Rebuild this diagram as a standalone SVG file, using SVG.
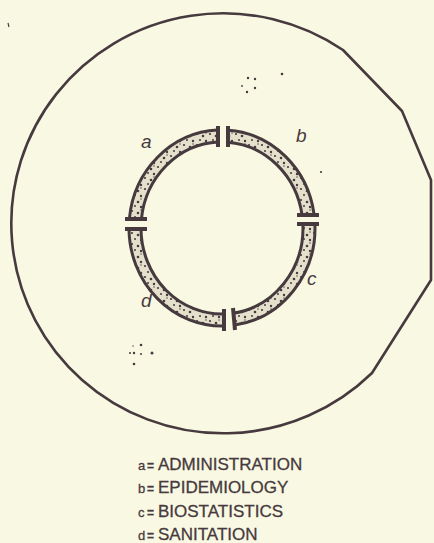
<svg xmlns="http://www.w3.org/2000/svg" width="434" height="543" viewBox="0 0 434 543">
<style>
.ink{fill:none;stroke:#463a3e;stroke-width:2.6;stroke-linejoin:round}
.seg{fill:none;stroke:#463a3e;stroke-width:15;stroke-linecap:butt}
.segin{fill:none;stroke:url(#stip);stroke-width:9;stroke-linecap:butt}
.fl{stroke:#463a3e;stroke-width:4;stroke-linecap:butt}
.lab{font-family:"Liberation Sans","DejaVu Sans",sans-serif;font-style:italic;font-size:19px;fill:#463a3e}
.leg{font-family:"Liberation Sans","DejaVu Sans",sans-serif;font-size:17px;fill:#463a3e;stroke:#463a3e;stroke-width:0.3}
.dot{fill:#463a3e}
</style>
<defs>
<pattern id="stip" width="13" height="11" patternUnits="userSpaceOnUse">
<rect width="13" height="11" fill="#e4e0cb"/>
<circle cx="2" cy="2" r="1.1" fill="#463a3e"/>
<circle cx="8" cy="4" r="1.3" fill="#463a3e"/>
<circle cx="5" cy="8" r="1" fill="#463a3e"/>
<circle cx="11" cy="9" r="1.2" fill="#463a3e"/>
<circle cx="11" cy="1" r="0.7" fill="#463a3e"/>
</pattern>
</defs>
<rect width="434" height="543" fill="#f9f8e3"/>
<g id="outer">
<path class="ink" d="M343,50 A212 210 0 1 0 372,373 L431,280 L431,180 L402,111 Z"/>
</g>
<g id="dots">
<circle class="dot" cx="248" cy="78" r="1.2"/>
<circle class="dot" cx="255" cy="79" r="1.2"/>
<circle class="dot" cx="242" cy="86" r="0.9"/>
<circle class="dot" cx="247" cy="92" r="1.2"/>
<circle class="dot" cx="255" cy="88" r="1.2"/>
<circle class="dot" cx="282" cy="74" r="1.3"/>
<circle class="dot" cx="321" cy="172" r="1.1"/>
<circle class="dot" cx="141" cy="345" r="1.3"/>
<circle class="dot" cx="133" cy="346" r="0.7"/>
<circle class="dot" cx="130" cy="353" r="1"/>
<circle class="dot" cx="134" cy="353" r="1.2"/>
<circle class="dot" cx="141" cy="354" r="1"/>
<circle class="dot" cx="152" cy="353" r="1.5"/>
<circle class="dot" cx="134" cy="364" r="1.3"/>
<path d="M8,23 L9,27" stroke="#463a3e" stroke-width="1.2"/>
</g>
<g id="seg-a">
<path class="seg" d="M218,136.1 A87 92 0 0 0 135.4,219"/>
<path class="segin" d="M218,136.1 A87 92 0 0 0 135.4,219"/>
<line class="fl" x1="218" y1="126" x2="218" y2="147"/>
<line class="fl" x1="125" y1="219" x2="147" y2="219"/>
<text class="lab" x="141" y="148">a</text>
</g>
<g id="seg-b">
<path class="seg" d="M228,136.2 A87 92 0 0 1 308.1,215"/>
<path class="segin" d="M228,136.2 A87 92 0 0 1 308.1,215"/>
<line class="fl" x1="228" y1="126" x2="228" y2="147"/>
<line class="fl" x1="297" y1="215" x2="319" y2="215"/>
<text class="lab" x="296" y="142">b</text>
</g>
<g id="seg-c">
<path class="seg" d="M308.9,224 A87 92 0 0 1 234,319.1"/>
<path class="segin" d="M308.9,224 A87 92 0 0 1 234,319.1"/>
<line class="fl" x1="297" y1="224" x2="319" y2="224"/>
<line class="fl" x1="233" y1="308" x2="235" y2="330"/>
<text class="lab" x="307" y="285">c</text>
</g>
<g id="seg-d">
<path class="seg" d="M224,320 A87 92 0 0 1 135,229"/>
<path class="segin" d="M224,320 A87 92 0 0 1 135,229"/>
<line class="fl" x1="224" y1="309" x2="224" y2="331"/>
<line class="fl" x1="125" y1="229" x2="147" y2="229"/>
<text class="lab" x="141" y="307">d</text>
</g>
<g id="legend">
<text class="leg" y="470"><tspan x="138" font-size="13">a</tspan><tspan x="147" font-size="12" font-weight="bold">=</tspan><tspan x="158">ADMINISTRATION</tspan></text>
<text class="leg" y="493"><tspan x="138" font-size="13">b</tspan><tspan x="147" font-size="12" font-weight="bold">=</tspan><tspan x="158">EPIDEMIOLOGY</tspan></text>
<text class="leg" y="517"><tspan x="138" font-size="13">c</tspan><tspan x="147" font-size="12" font-weight="bold">=</tspan><tspan x="158">BIOSTATISTICS</tspan></text>
<text class="leg" y="540"><tspan x="138" font-size="13">d</tspan><tspan x="147" font-size="12" font-weight="bold">=</tspan><tspan x="158">SANITATION</tspan></text>
</g>
</svg>
